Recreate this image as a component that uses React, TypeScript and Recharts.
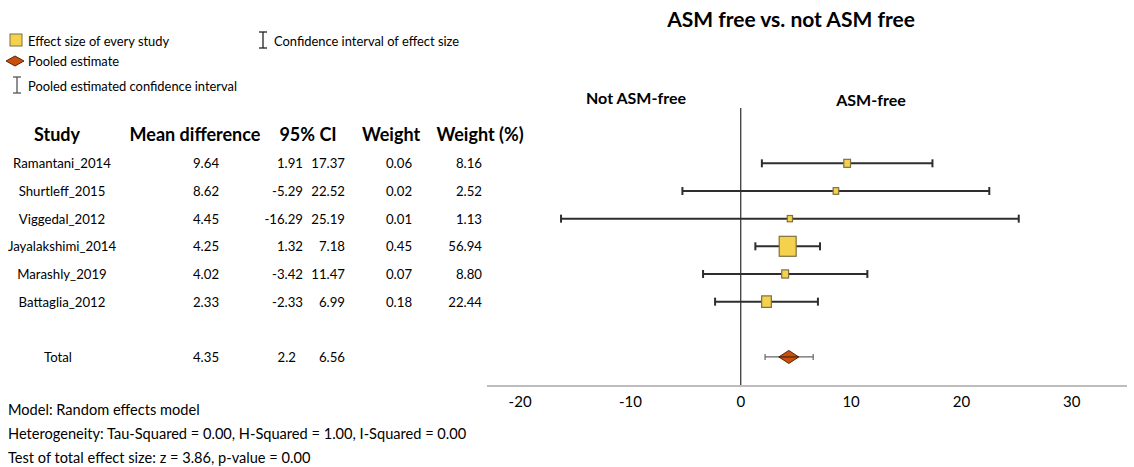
import React from "react";
import {
  ScatterChart,
  Scatter,
  XAxis,
  YAxis,
  ErrorBar,
  ReferenceLine,
} from "recharts";

const studies = [
  "Ramantani_2014",
  "Shurtleff_2015",
  "Viggedal_2012",
  "Jayalakshimi_2014",
  "Marashly_2019",
  "Battaglia_2012",
];
const meanDiff = [9.64, 8.62, 4.45, 4.25, 4.02, 2.33];
const ciLow = [1.91, -5.29, -16.29, 1.32, -3.42, -2.33];
const ciHigh = [17.37, 22.52, 25.19, 7.18, 11.47, 6.99];
const weights = [0.06, 0.02, 0.01, 0.45, 0.07, 0.18];
const weightPct = [8.16, 2.52, 1.13, 56.94, 8.8, 22.44];

const pooledLabel = "Total";
const pooledMean = 4.35;
const pooledLow = 2.2;
const pooledHigh = 6.56;
const pooledRow = 7;

const xTicks = [-20, -10, 0, 10, 20, 30];
const headers = ["Study", "Mean difference", "95% CI", "Weight", "Weight (%)"];

const title = "ASM free vs. not ASM free";
const leftSideLabel = "Not ASM-free";
const rightSideLabel = "ASM-free";
const footerLines = [
  "Model: Random effects model",
  "Heterogeneity: Tau-Squared = 0.00, H-Squared = 1.00, I-Squared = 0.00",
  "Test of total effect size: z = 3.86, p-value = 0.00",
];
const legendLabels = [
  "Effect size of every study",
  "Confidence interval of effect size",
  "Pooled estimate",
  "Pooled estimated confidence interval",
];

const studyData = studies.map((s, i) => ({
  name: s,
  row: i,
  md: meanDiff[i],
  pct: weightPct[i],
  err: [meanDiff[i] - ciLow[i], ciHigh[i] - meanDiff[i]],
}));
const pooledData = [
  {
    name: pooledLabel,
    row: pooledRow,
    md: pooledMean,
    err: [pooledMean - pooledLow, pooledHigh - pooledMean],
  },
];

const W = 1134;
const H = 467;
const TOP = 108;
const BOTTOM_AXIS = 386;
const Y_DOMAIN: [number, number] = [-2, 8.05];
const FONT = "Lato, 'Open Sans', sans-serif";

const rowY = (r: number) =>
  TOP + ((r - Y_DOMAIN[0]) / (Y_DOMAIN[1] - Y_DOMAIN[0])) * (BOTTOM_AXIS - TOP);

const SquareShape = (props: any) => {
  const { cx, cy, payload } = props;
  const w = 5 + 0.21 * payload.pct;
  const h = 6 + 0.245 * payload.pct;
  return (
    <rect
      x={cx - w / 2}
      y={cy - h / 2}
      width={w}
      height={h}
      fill="#F4D24E"
      stroke="#7d7040"
      strokeWidth={1.2}
    />
  );
};

const DiamondShape = (props: any) => {
  const { cx, cy } = props;
  const hw = 10;
  const hh = 6.5;
  return (
    <g>
      <path
        d={`M${cx - hw},${cy} L${cx},${cy - hh} L${cx + hw},${cy} L${cx},${cy + hh} Z`}
        fill="#C8500C"
        stroke="#5a2608"
        strokeWidth={1}
      />
      <line x1={cx - hw} x2={cx + hw} y1={cy} y2={cy} stroke="#3a1a06" strokeWidth={1} />
    </g>
  );
};

const IBeam = ({ x, y, color }: { x: number; y: number; color: string }) => (
  <g stroke={color} strokeWidth={1.3}>
    <line x1={x} x2={x} y1={y - 8} y2={y + 8} />
    <line x1={x - 4} x2={x + 4} y1={y - 8} y2={y - 8} />
    <line x1={x - 4} x2={x + 4} y1={y + 8} y2={y + 8} />
  </g>
);

const TableOverlay = () => {
  const base = 5;
  const lf = 12.9;
  return (
    <svg
      width={W}
      height={H}
      style={{ position: "absolute", left: 0, top: 0, pointerEvents: "none" }}
      fontFamily={FONT}
    >
      {/* legend */}
      <rect x={10} y={34} width={12} height={12} fill="#F4D24E" stroke="#7d7040" strokeWidth={1} />
      <text x={28} y={41 + base} fontSize={lf} fill="#000">{legendLabels[0]}</text>
      <IBeam x={263} y={40} color="#222" />
      <text x={274} y={41 + base} fontSize={lf} fill="#000">{legendLabels[1]}</text>
      <path d="M6,61 L15,56 L24,61 L15,66 Z" fill="#C8500C" stroke="#5a2608" strokeWidth={1} />
      <text x={28} y={61 + base} fontSize={lf} fill="#000">{legendLabels[2]}</text>
      <IBeam x={17} y={85} color="#555" />
      <text x={28} y={86 + base} fontSize={lf} fill="#000">{legendLabels[3]}</text>

      {/* headers */}
      <g fontWeight="bold" fontSize={18} fill="#000">
        <text x={57} y={135 + 6} textAnchor="middle">{headers[0]}</text>
        <text x={195} y={135 + 6} textAnchor="middle">{headers[1]}</text>
        <text x={308} y={135 + 6} textAnchor="middle">{headers[2]}</text>
        <text x={391} y={135 + 6} textAnchor="middle">{headers[3]}</text>
        <text x={480} y={135 + 6} textAnchor="middle">{headers[4]}</text>
      </g>

      {/* rows */}
      <g fontSize={13.2} fill="#000">
        {studyData.map((d, i) => {
          const y = rowY(i) + base;
          return (
            <g key={d.name}>
              <text x={62} y={y} textAnchor="middle">{d.name}</text>
              <text x={206} y={y} textAnchor="middle">{meanDiff[i].toFixed(2)}</text>
              <text x={303} y={y} textAnchor="end">{ciLow[i].toFixed(2)}</text>
              <text x={345} y={y} textAnchor="end">{ciHigh[i].toFixed(2)}</text>
              <text x={399} y={y} textAnchor="middle">{weights[i].toFixed(2)}</text>
              <text x={482} y={y} textAnchor="end">{weightPct[i].toFixed(2)}</text>
            </g>
          );
        })}
        <text x={58} y={rowY(pooledRow) + base} textAnchor="middle">{pooledLabel}</text>
        <text x={206} y={rowY(pooledRow) + base} textAnchor="middle">{String(pooledMean)}</text>
        <text x={296} y={rowY(pooledRow) + base} textAnchor="end">{String(pooledLow)}</text>
        <text x={345} y={rowY(pooledRow) + base} textAnchor="end">{String(pooledHigh)}</text>
      </g>

      {/* footer */}
      <g fontSize={14.6} fill="#000">
        {footerLines.map((t, i) => (
          <text key={i} x={8} y={410 + i * 24 + base}>{t}</text>
        ))}
      </g>

      {/* title and side labels */}
      <text x={791} y={20 + 7} textAnchor="middle" fontSize={21} fontWeight="bold" fill="#000">
        {title}
      </text>
      <text x={636} y={98 + 6} textAnchor="middle" fontSize={16} fontWeight="bold" fill="#000">
        {leftSideLabel}
      </text>
      <text x={871} y={100 + 6} textAnchor="middle" fontSize={16} fontWeight="bold" fill="#000">
        {rightSideLabel}
      </text>
    </svg>
  );
};

export default function App() {
  return (
    <div style={{ position: "absolute", left: 0, top: 0, width: W, height: H, background: "#fff" }}>
      <ScatterChart
        width={W}
        height={H}
        margin={{ top: TOP, right: 7, bottom: H - BOTTOM_AXIS - 30, left: 487 }}
        style={{ position: "absolute", left: 0, top: 0 }}
      >
        <XAxis
          type="number"
          dataKey="md"
          domain={[-23, 35]}
          ticks={xTicks}
          allowDataOverflow
          axisLine={{ stroke: "#bdbdbd", strokeWidth: 2 }}
          tickLine={false}
          height={30}
          tick={{ fill: "#000", fontSize: 15, fontFamily: FONT }}
          tickMargin={4}
        />
        <YAxis type="number" dataKey="row" domain={Y_DOMAIN} reversed hide allowDataOverflow />
        <ReferenceLine x={0} stroke="#000" strokeWidth={1} />
        <Scatter data={studyData} shape={<SquareShape />} isAnimationActive={false}>
          <ErrorBar dataKey="err" direction="x" width={4} stroke="#2e2e2e" strokeWidth={2} />
        </Scatter>
        <Scatter data={pooledData} shape={<DiamondShape />} isAnimationActive={false}>
          <ErrorBar dataKey="err" direction="x" width={3} stroke="#666" strokeWidth={1.2} />
        </Scatter>
      </ScatterChart>
      <TableOverlay />
    </div>
  );
}
